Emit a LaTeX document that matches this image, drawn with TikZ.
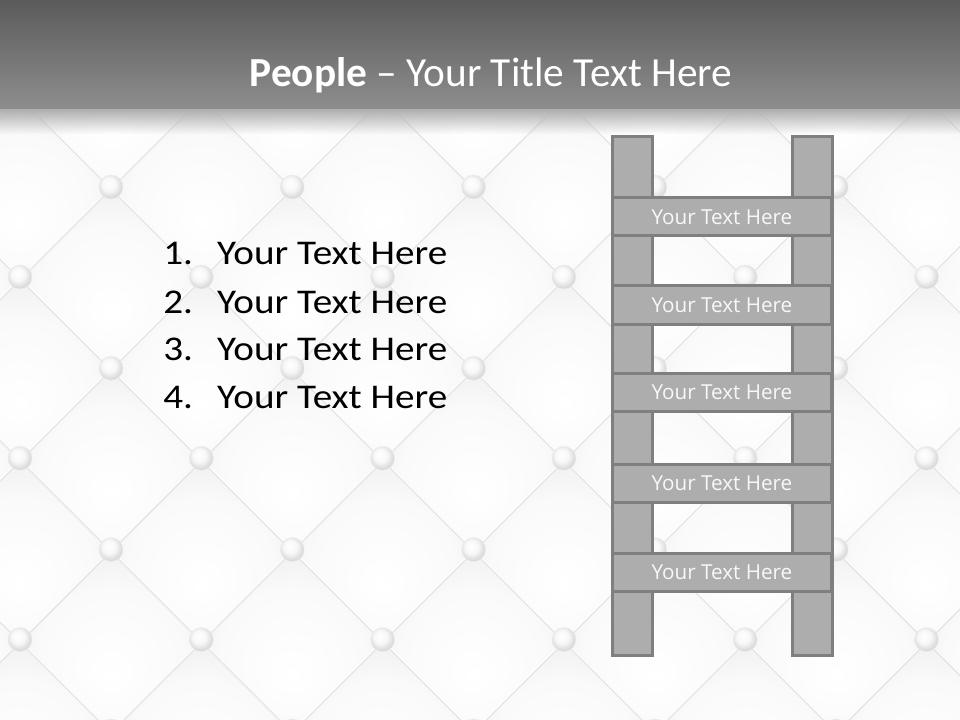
\documentclass[tikz,border=0pt]{standalone}
\usepackage{fontspec}
\setmainfont{Carlito}
\newfontfamily\listfont[FakeStretch=1.13]{Carlito}
\newfontfamily\rungfont{Open Sans}
\usetikzlibrary{fadings}
\definecolor{bandtop}{HTML}{5B5B5B}
\definecolor{bandbot}{HTML}{8E8E8E}
\definecolor{ladfill}{HTML}{ADADAD}
\definecolor{ladline}{HTML}{7F7F7F}
\definecolor{rungtext}{HTML}{F8F8F8}
\definecolor{bgbase}{HTML}{EEEEEE}
\pgfdeclareradialshading{cushion}{\pgfpoint{0bp}{-10bp}}{color(0bp)=(white); color(20bp)=(white!98!black); color(34bp)=(white!92!black); color(44bp)=(white!88!black); color(50bp)=(white!86!black)}
\pgfdeclareradialshading{button}{\pgfpoint{-6bp}{8bp}}{color(0bp)=(white); color(14bp)=(white!97!black); color(25bp)=(white!86!black); color(50bp)=(white!82!black)}
\tikzfading[name=fadedown, top color=transparent!0, bottom color=transparent!100]
\tikzset{
  rail/.style={draw=ladline, fill=ladfill, line width=2.25pt, inner sep=0pt,
    minimum width=30pt, minimum height=389.25pt},
  rung/.style={draw=ladline, fill=ladfill, line width=2.25pt, inner sep=0pt,
    minimum width=164.25pt, minimum height=28.5pt, text=rungtext,
    font=\rungfont\fontsize{15.5}{18}\selectfont},
  listitem/.style={anchor=base west, text=black, inner sep=0pt,
    font=\listfont\fontsize{26}{30}\selectfont},
  seamshadow/.style={draw=black!10, line width=1.8pt},
  seamlight/.style={draw=white, line width=0.9pt},
  btn/.style={shading=button, draw=black!7, line width=0.3pt},
}
\begin{document}
\begin{tikzpicture}[x=0.75pt,y=-0.75pt]
\useasboundingbox (0,0) rectangle (960,720);
\begin{scope}
  \clip (0,0) rectangle (960,720);
  \fill[bgbase] (0,0) rectangle (960,720);
  % cushions
  \foreach \i in {-1,...,6}{
    \foreach \j in {-1,...,4}{
      \shade[shading=cushion] ({20+181.3*\i},{187+181.3*\j}) +(0,-90.65) -- +(90.65,0) -- +(0,90.65) -- +(-90.65,0) -- cycle;
      \shade[shading=cushion] ({111+181.3*\i},{277+181.3*\j}) +(0,-90.65) -- +(90.65,0) -- +(0,90.65) -- +(-90.65,0) -- cycle;
    }
  }
  % seams
  \foreach \k in {-6,...,5}{
    \path[seamshadow] ({-20},{76+181.3*\k-20+1.2}) -- ({1000},{76+181.3*\k+1000+1.2});
    \path[seamlight] ({-20},{76+181.3*\k-20}) -- ({1000},{76+181.3*\k+1000});
  }
  \foreach \k in {-2,...,9}{
    \path[seamshadow] ({-20},{298+181.3*\k+20+1.2}) -- ({1000},{298+181.3*\k-1000+1.2});
    \path[seamlight] ({-20},{298+181.3*\k+20}) -- ({1000},{298+181.3*\k-1000});
  }
  % buttons
  \foreach \i in {-1,...,6}{
    \foreach \j in {-1,...,4}{
      \path[btn] ({111+181.3*\i},{187+181.3*\j}) circle[radius=9pt];
      \path[btn] ({20+181.3*\i},{277+181.3*\j}) circle[radius=9pt];
    }
  }
  % top band
  \shade[top color=bandtop, bottom color=bandbot] (0,0) rectangle (960,110);
  \fill[bandbot!70!white, path fading=fadedown] (0,109.5) rectangle (960,134);
\end{scope}

% title
\node[anchor=base, text=white, inner sep=0pt, font=\fontsize{31}{37}\selectfont] (title) at (491,87) {\textbf{People} – Your Title Text Here};

% list
\node[listitem] (l1) at (163,265) {\makebox[40.5pt][l]{1.}Your Text Here};
\node[listitem] (l2) at (163,313) {\makebox[40.5pt][l]{2.}Your Text Here};
\node[listitem] (l3) at (163,360) {\makebox[40.5pt][l]{3.}Your Text Here};
\node[listitem] (l4) at (163,408) {\makebox[40.5pt][l]{4.}Your Text Here};

% ladder
\node[rail] (railL) at (632.5,396) {};
\node[rail] (railR) at (812,396) {};
\node[rung] (r1) at (722,217) {Your Text Here};
\node[rung] (r2) at (722,305) {Your Text Here};
\node[rung] (r3) at (722,392) {Your Text Here};
\node[rung] (r4) at (722,483) {Your Text Here};
\node[rung] (r5) at (722,572) {Your Text Here};
\end{tikzpicture}
\end{document}
